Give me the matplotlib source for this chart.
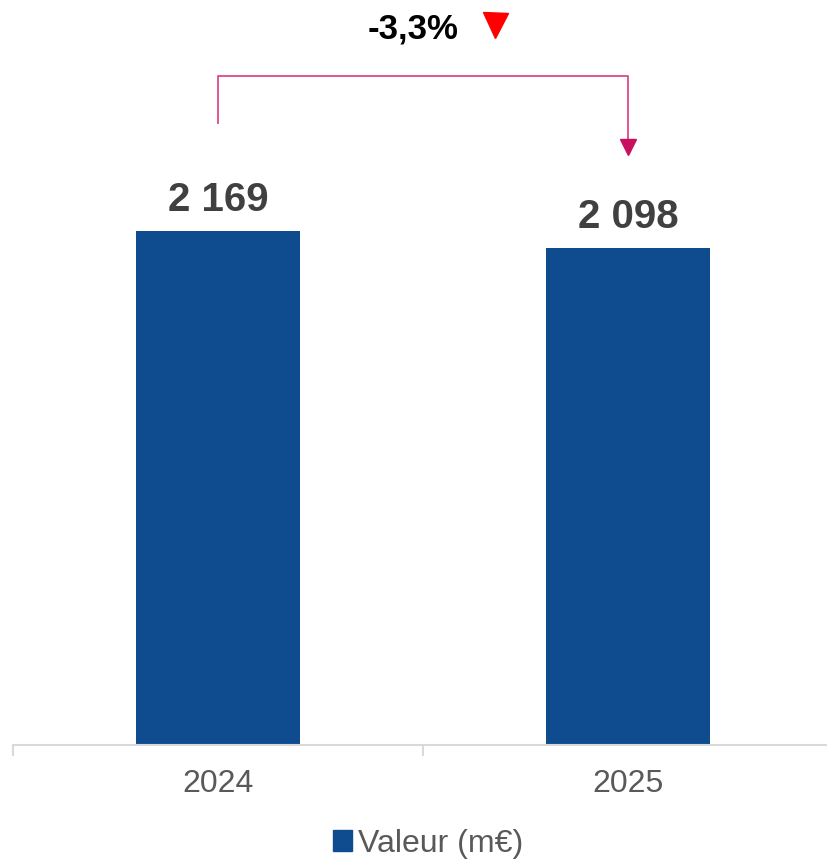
import numpy as np
import matplotlib.pyplot as plt
from matplotlib.patches import Rectangle

plt.rcParams['font.family'] = ['Liberation Sans', 'DejaVu Sans']

years = ['2024', '2025']
values = [2169, 2098]
labels = ['2 169', '2 098']
change_label = '-3,3%'
legend_label = 'Valeur (m€)'

bar_color = '#0F4C8F'
line_color = '#E0468A'
head_color = '#C8105E'

fig = plt.figure(figsize=(8.28, 8.6), dpi=100)
ax = fig.add_axes([13 / 828, 115 / 860, 820 / 828, 745 / 860])

x = np.arange(len(years))
ax.bar(x, values, width=0.4, color=bar_color, zorder=2)
ax.set_xlim(-0.5, 1.5)
ax.set_ylim(0, 3143)

for xi, v, lab in zip(x, values, labels):
    ax.annotate(lab, (xi, v), xytext=(0, 14), textcoords='offset points',
                ha='center', va='baseline', fontsize=29, fontweight='bold',
                color='#404040')

# axis styling
for s in ['top', 'right', 'left']:
    ax.spines[s].set_visible(False)
ax.spines['bottom'].set_color('#D9D9D9')
ax.spines['bottom'].set_linewidth(1.5)
ax.set_yticks([])
ax.set_xticks(x)
ax.set_xticklabels(years, fontsize=23, color='#595959')
ax.tick_params(axis='x', length=0, pad=17)
ax.set_xticks([-0.5, 0.5, 1.5], minor=True)
ax.tick_params(axis='x', which='minor', length=8, width=1.5, color='#D9D9D9')

# bracket arrow between the two bars
start_y, top_y, head_top, head_mid = 2624, 2823, 2553, 2521
ax.plot([x[0], x[0], x[1], x[1]], [start_y, top_y, top_y, head_top],
        color=line_color, lw=1.3, clip_on=False, zorder=3)
ax.plot([x[1]], [head_mid], marker='v', ms=11, color=head_color,
        mec=head_color, clip_on=False, zorder=3)

# change label with red triangle
fig.text(413 / 828, (860 - 39) / 860, change_label, ha='center', va='baseline',
         fontsize=25, fontweight='bold', color='black')
ax.plot([495 / 828], [(860 - 25) / 860], marker='v', ms=18, color='#FF0000',
        transform=fig.transFigure, clip_on=False)

handle = Rectangle((0, 0), 1, 1, color=bar_color)
fig.legend([handle], [legend_label], loc='center', bbox_to_anchor=(0.517, 0.019),
           frameon=False, fontsize=23, labelcolor='#595959',
           handlelength=0.6, handleheight=0.6, handletextpad=0.2)

fig.savefig('out.png', dpi=100)
